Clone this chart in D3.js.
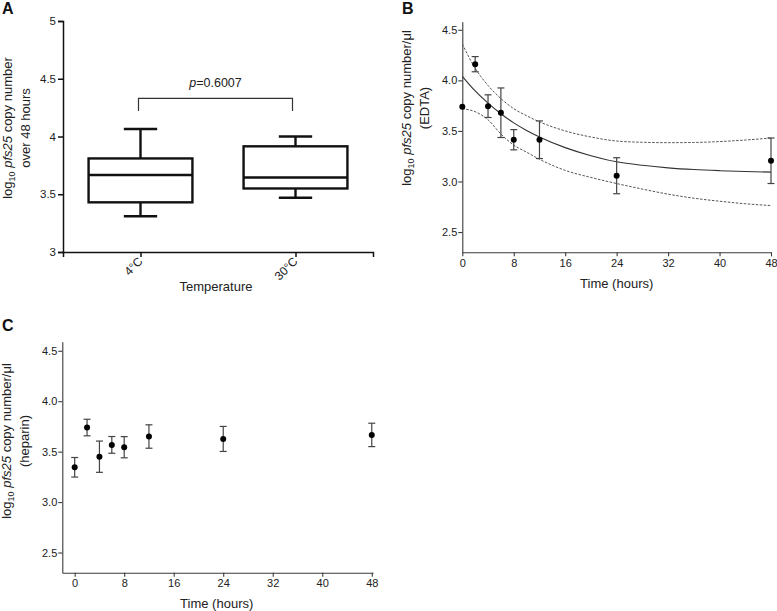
<!DOCTYPE html>
<html>
<head>
<meta charset="utf-8">
<script src="https://cdn.jsdelivr.net/npm/d3@7"></script>
<style>
  html, body { margin: 0; padding: 0; background: #fff; }
  svg { display: block; font-family: "Liberation Sans", Arial, Helvetica, sans-serif; }
</style>
</head>
<body>
<svg id="chart" width="777" height="611"></svg>
<script>
// ---------- Panel A data (box plot) ----------
const boxCategories = ["4°C", "30°C"];
const boxMin    = [3.31, 3.47];
const boxQ1     = [3.43, 3.55];
const boxMedian = [3.667, 3.645];
const boxQ3     = [3.81, 3.915];
const boxMax    = [4.065, 4.00];
const boxYTicks = [3, 3.5, 4, 4.5, 5];
const boxYTickLabels = ["3", "3.5", "4", "4.5", "5"];
const pValueText = "=0.6007";

// ---------- Panel B data (EDTA) ----------
const edtaTimes = [0, 2, 4, 6, 8, 12, 24, 48];
const edtaMean  = [3.74, 4.16, 3.745, 3.68, 3.413, 3.413, 3.057, 3.205];
const edtaErr   = [0, 0.075, 0.112, 0.245, 0.10, 0.186, 0.178, 0.225];
const fitTimes  = [0, 2, 4, 6, 8, 10, 12, 16, 20, 24, 28, 32, 36, 40, 44, 48];
const fitMean   = [4.04, 3.895, 3.775, 3.67, 3.58, 3.505, 3.44, 3.335, 3.255, 3.195, 3.16, 3.135, 3.118, 3.107, 3.099, 3.093];
const fitUpper  = [4.36, 4.12, 3.95, 3.82, 3.72, 3.65, 3.59, 3.50, 3.44, 3.40, 3.388, 3.384, 3.386, 3.395, 3.41, 3.43];
const fitLower  = [3.72, 3.69, 3.61, 3.47, 3.36, 3.29, 3.22, 3.11, 3.04, 2.98, 2.925, 2.875, 2.835, 2.805, 2.78, 2.762];

// ---------- Panel C data (heparin) ----------
const hepTimes = [0, 2, 4, 6, 8, 12, 24, 48];
const hepMean  = [3.345, 3.739, 3.45, 3.567, 3.544, 3.65, 3.626, 3.666];
const hepErr   = [0.097, 0.082, 0.155, 0.083, 0.105, 0.116, 0.124, 0.116];

const timeTicks = [0, 8, 16, 24, 32, 40, 48];
const logTicks  = [2.5, 3.0, 3.5, 4.0, 4.5];

const svg = d3.select("#chart");
const TICK_FONT = "11px";
const TITLE_FONT = "13px";
const AXIS_GRAY = "#3a3a3a";

function styleAxis(g, color, width) {
  g.select(".domain").attr("stroke", color).attr("stroke-width", width);
  g.selectAll(".tick line").attr("stroke", color).attr("stroke-width", width);
  g.selectAll(".tick text").attr("fill", "#222").style("font-size", TICK_FONT).style("font-family", "'Liberation Sans', Arial, sans-serif");
}

function yLabel(rest, cy, baseline1, baseline2, line2) {
  const t1 = svg.append("text")
    .attr("transform", `translate(${baseline1},${cy}) rotate(-90)`)
    .attr("text-anchor", "middle").style("font-size", TITLE_FONT).attr("fill", "#222");
  t1.append("tspan").text("log");
  t1.append("tspan").text("10").attr("dy", 3).style("font-size", "9px");
  t1.append("tspan").text(" ").attr("dy", -3);
  t1.append("tspan").text("pfs25").style("font-style", "italic");
  t1.append("tspan").text(rest);
  svg.append("text")
    .attr("transform", `translate(${baseline2},${cy}) rotate(-90)`)
    .attr("text-anchor", "middle").style("font-size", TITLE_FONT).attr("fill", "#222")
    .text(line2);
}

function panelLabel(txt, x, y) {
  svg.append("text").attr("x", x).attr("y", y).text(txt)
    .style("font-size", "16px").style("font-weight", "bold").attr("fill", "#111");
}

// ================= Panel A =================
{
  const x = d3.scalePoint().domain(boxCategories).range([63, 373]).padding(0.5);
  const y = d3.scaleLinear().domain([3, 5]).range([252, 21]);
  const step = x.step();
  const boxW = step * 0.67;
  const capW = step * 0.215;

  const gx = svg.append("g").attr("transform", "translate(0,252)")
    .call(d3.axisBottom(x).tickSize(5).tickFormat(""));
  styleAxis(gx, "#111", 1.5);
  const gy = svg.append("g").attr("transform", "translate(63,0)")
    .call(d3.axisLeft(y).tickValues(boxYTicks).tickSize(5).tickPadding(2)
      .tickFormat((d, i) => boxYTickLabels[i]));
  styleAxis(gy, "#111", 1.5);
  gy.selectAll(".tick text").style("font-size", "11.5px");

  // rotated category labels
  svg.append("g").selectAll("text").data(boxCategories).join("text")
    .attr("transform", d => `translate(${x(d) + 3},${262}) rotate(-45)`)
    .attr("text-anchor", "end")
    .style("font-size", "12px").attr("fill", "#222")
    .text(d => d);

  const boxes = svg.append("g").attr("fill", "none").attr("stroke", "#111").attr("stroke-width", 2.4);
  boxCategories.forEach((c, i) => {
    const cx = x(c);
    boxes.append("line").attr("x1", cx).attr("x2", cx).attr("y1", y(boxQ3[i])).attr("y2", y(boxMax[i]));
    boxes.append("line").attr("x1", cx).attr("x2", cx).attr("y1", y(boxQ1[i])).attr("y2", y(boxMin[i]));
    boxes.append("line").attr("x1", cx - capW / 2).attr("x2", cx + capW / 2).attr("y1", y(boxMax[i])).attr("y2", y(boxMax[i]));
    boxes.append("line").attr("x1", cx - capW / 2).attr("x2", cx + capW / 2).attr("y1", y(boxMin[i])).attr("y2", y(boxMin[i]));
    boxes.append("rect").attr("x", cx - boxW / 2).attr("width", boxW)
      .attr("y", y(boxQ3[i])).attr("height", y(boxQ1[i]) - y(boxQ3[i]));
    boxes.append("line").attr("x1", cx - boxW / 2).attr("x2", cx + boxW / 2)
      .attr("y1", y(boxMedian[i])).attr("y2", y(boxMedian[i]));
  });

  // significance bracket
  const bx1 = x(boxCategories[0]) - 2, bx2 = x(boxCategories[1]) - 3;
  const bTop = y(4.33), bBot = y(4.22);
  svg.append("path")
    .attr("d", `M${bx1},${bBot}V${bTop}H${bx2}V${bBot}`)
    .attr("fill", "none").attr("stroke", "#333").attr("stroke-width", 1.2);
  const pt = svg.append("text").attr("x", (bx1 + bx2) / 2).attr("y", 87)
    .attr("text-anchor", "middle").style("font-size", "12.5px").attr("fill", "#222");
  pt.append("tspan").text("p").style("font-style", "italic");
  pt.append("tspan").text(pValueText);

  svg.append("text").attr("x", 216).attr("y", 291).attr("text-anchor", "middle")
    .style("font-size", TITLE_FONT).attr("fill", "#222").text("Temperature");

  yLabel(" copy number", 128, 11.5, 29.5, "over 48 hours");
  panelLabel("A", 2, 14);
}

// ================= Panel B =================
{
  const x = d3.scaleLinear().domain([0, 48]).range([462.3, 771]);
  const y = d3.scaleLinear().domain([2.3, 4.58]).range([252.3, 21.7]);

  const gx = svg.append("g").attr("transform", "translate(0,252.3)")
    .call(d3.axisBottom(x).tickValues(timeTicks).tickSize(4).tickPadding(3).tickSizeOuter(0));
  styleAxis(gx, AXIS_GRAY, 1.1);
  const gy = svg.append("g").attr("transform", "translate(462.3,0)")
    .call(d3.axisLeft(y).tickValues(logTicks).tickSize(4).tickPadding(1).tickSizeOuter(0)
      .tickFormat(d3.format(".1f")));
  styleAxis(gy, AXIS_GRAY, 1.1);

  const line = d3.line().x((d, i) => x(fitTimes[i])).y(d => y(d)).curve(d3.curveMonotoneX);
  svg.append("path").datum(fitUpper).attr("d", line)
    .attr("fill", "none").attr("stroke", "#555").attr("stroke-width", 1).attr("stroke-dasharray", "2.5,1.5");
  svg.append("path").datum(fitLower).attr("d", line)
    .attr("fill", "none").attr("stroke", "#555").attr("stroke-width", 1).attr("stroke-dasharray", "2.5,1.5");
  svg.append("path").datum(fitMean).attr("d", line)
    .attr("fill", "none").attr("stroke", "#333").attr("stroke-width", 1.1);

  const eb = svg.append("g").attr("stroke", "#444").attr("stroke-width", 1.2);
  edtaTimes.forEach((t, i) => {
    if (edtaErr[i] <= 0) return;
    const cx = x(t), top = y(edtaMean[i] + edtaErr[i]), bot = y(edtaMean[i] - edtaErr[i]);
    eb.append("line").attr("x1", cx).attr("x2", cx).attr("y1", top).attr("y2", bot);
    eb.append("line").attr("x1", cx - 3.5).attr("x2", cx + 3.5).attr("y1", top).attr("y2", top);
    eb.append("line").attr("x1", cx - 3.5).attr("x2", cx + 3.5).attr("y1", bot).attr("y2", bot);
  });
  svg.append("g").selectAll("circle").data(edtaMean).join("circle")
    .attr("cx", (d, i) => x(edtaTimes[i])).attr("cy", d => y(d)).attr("r", 3).attr("fill", "#000");

  svg.append("text").attr("x", 616.7).attr("y", 288).attr("text-anchor", "middle")
    .style("font-size", TITLE_FONT).attr("fill", "#222").text("Time (hours)");

  yLabel(" copy number/μl", 108, 411, 429, "(EDTA)");
  panelLabel("B", 402, 14);
}

// ================= Panel C =================
{
  const x = d3.scaleLinear().domain([-2, 48.2]).range([62.3, 373]);
  const y = d3.scaleLinear().domain([2.3, 4.59]).range([572.7, 341.7]);

  const gx = svg.append("g").attr("transform", "translate(0,572.7)")
    .call(d3.axisBottom(x).tickValues(timeTicks).tickSize(4).tickPadding(3).tickSizeOuter(0));
  styleAxis(gx, AXIS_GRAY, 1.1);
  const gy = svg.append("g").attr("transform", "translate(62.3,0)")
    .call(d3.axisLeft(y).tickValues(logTicks).tickSize(4).tickPadding(1).tickSizeOuter(0)
      .tickFormat(d3.format(".1f")));
  styleAxis(gy, AXIS_GRAY, 1.1);

  const eb = svg.append("g").attr("stroke", "#444").attr("stroke-width", 1.2);
  hepTimes.forEach((t, i) => {
    const cx = x(t), top = y(hepMean[i] + hepErr[i]), bot = y(hepMean[i] - hepErr[i]);
    eb.append("line").attr("x1", cx).attr("x2", cx).attr("y1", top).attr("y2", bot);
    eb.append("line").attr("x1", cx - 3.5).attr("x2", cx + 3.5).attr("y1", top).attr("y2", top);
    eb.append("line").attr("x1", cx - 3.5).attr("x2", cx + 3.5).attr("y1", bot).attr("y2", bot);
  });
  svg.append("g").selectAll("circle").data(hepMean).join("circle")
    .attr("cx", (d, i) => x(hepTimes[i])).attr("cy", d => y(d)).attr("r", 3).attr("fill", "#000");

  svg.append("text").attr("x", 216.7).attr("y", 607.5).attr("text-anchor", "middle")
    .style("font-size", TITLE_FONT).attr("fill", "#222").text("Time (hours)");

  yLabel(" copy number/μl", 441, 11, 29, "(heparin)");
  panelLabel("C", 2, 331);
}
</script>
</body>
</html>
